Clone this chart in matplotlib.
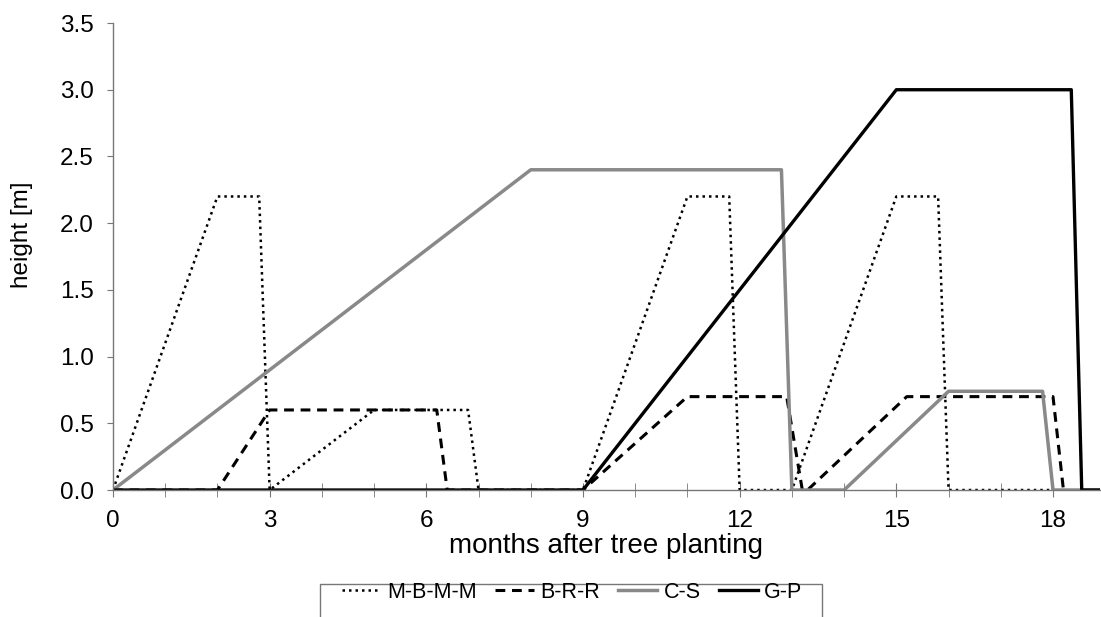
import numpy as np
import matplotlib.pyplot as plt
from matplotlib.patches import Rectangle
from matplotlib.ticker import MultipleLocator, FormatStrFormatter

plt.rcParams['font.family'] = ['Liberation Sans', 'DejaVu Sans']

# crop sequences: (month, height in m)
mbmm_x = [0, 2, 2.8, 3, 5, 6.8, 7, 9, 11, 11.8, 12, 13, 15, 15.8, 16, 18]
mbmm_y = [0, 2.2, 2.2, 0, 0.6, 0.6, 0, 0, 2.2, 2.2, 0, 0, 2.2, 2.2, 0, 0]

brr_x = [0, 2, 3, 6.2, 6.4, 9, 11, 12.9, 13.2, 13.3, 15.2, 18.0, 18.2]
brr_y = [0, 0, 0.6, 0.6, 0, 0, 0.7, 0.7, 0, 0, 0.7, 0.7, 0]

cs_x = [0, 8, 12.8, 13, 14, 16, 17.8, 18, 18.9]
cs_y = [0, 2.4, 2.4, 0, 0, 0.74, 0.74, 0, 0]

gp_x = [0, 9, 15, 18.35, 18.55, 18.9]
gp_y = [0, 0, 3.0, 3.0, 0, 0]

W, H = 1101, 617
fig = plt.figure(figsize=(W / 100, H / 100), dpi=100)
ax = fig.add_axes([0.1026, 0.2058, 0.8965, 0.7569])

ax.plot(mbmm_x, mbmm_y, color='black', lw=1.8, linestyle=(0, (1, 1.6)), label='M-B-M-M')
ax.plot(brr_x, brr_y, color='black', lw=2.2, linestyle=(0, (3.2, 2.2)), label='B-R-R')
ax.plot(cs_x, cs_y, color='#898989', lw=2.5, label='C-S')
ax.plot(gp_x, gp_y, color='black', lw=2.4, label='G-P')

ax.set_xlim(0, 18.9)
ax.set_ylim(0, 3.5)
ax.xaxis.set_major_locator(MultipleLocator(3))
ax.xaxis.set_minor_locator(MultipleLocator(1))
ax.yaxis.set_major_locator(MultipleLocator(0.5))
ax.yaxis.set_major_formatter(FormatStrFormatter('%.1f'))

for s in ['top', 'right']:
    ax.spines[s].set_visible(False)
for s in ['left', 'bottom']:
    ax.spines[s].set_color('#777777')
    ax.spines[s].set_linewidth(1.0)

ax.tick_params(axis='y', direction='out', length=4, color='#777777', labelsize=17.5, pad=10)
ax.tick_params(axis='x', which='both', direction='inout', length=9.5, color='#777777',
               labelsize=17.5, pad=9.3)

ax.set_xlabel('months after tree planting', fontsize=20, labelpad=1)
ax.set_ylabel('height [m]', fontsize=17.5)
ax.yaxis.set_label_coords(-0.081, 0.546)

# legend box sits low and runs off the bottom edge
leg = fig.legend(loc='upper left', bbox_to_anchor=(342 / W, 1 - 582 / H),
                 ncol=4, fontsize=15.5, frameon=False, borderpad=0, borderaxespad=0,
                 handlelength=1.8, columnspacing=0.85, handletextpad=0.3)
fig.add_artist(Rectangle((320 / W, -0.1), 502 / W, 0.1 + (H - 584) / H,
                         transform=fig.transFigure, fill=False,
                         edgecolor='#777777', linewidth=1.0))

fig.savefig('out.png', dpi=100)
